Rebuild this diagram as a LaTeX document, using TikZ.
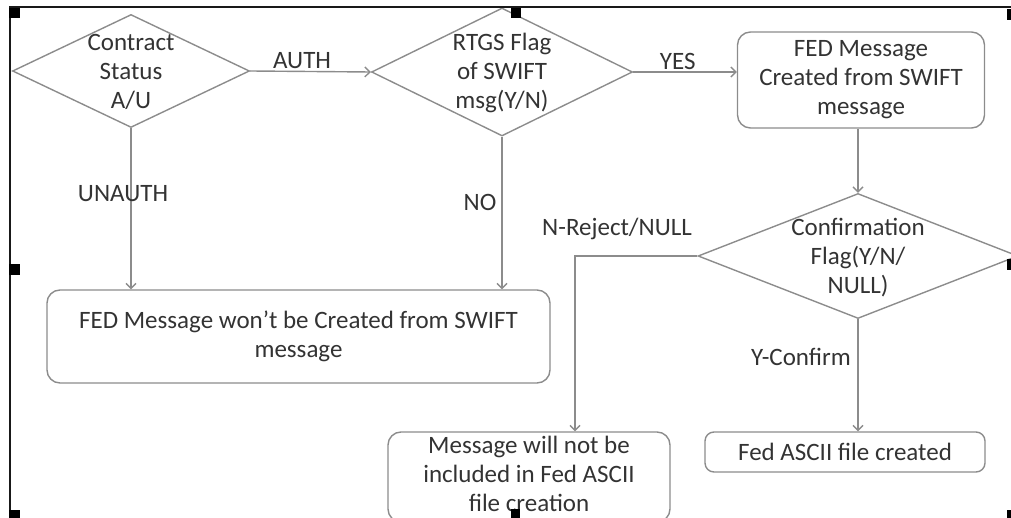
\documentclass[tikz,border=0pt]{standalone}
\usepackage{fontspec}
\setmainfont{Carlito}
\usetikzlibrary{arrows.meta,shapes.geometric}
\definecolor{linegray}{HTML}{8C8C8C}
\definecolor{txtgray}{HTML}{333333}
\begin{document}
\begin{tikzpicture}[x=1pt,y=-1pt,
  every node/.style={font=\fontsize{25}{29}\selectfont, text=txtgray},
  dec/.style={draw=linegray, line width=1.4pt, diamond, inner sep=0pt},
  proc/.style={draw=linegray, line width=1.4pt, rounded corners=13pt, inner sep=0pt, align=center},
  lbl/.style={align=center, inner sep=0pt},
  conn/.style={draw=linegray, line width=1.4pt, -{Straight Barb[length=5pt,width=10pt]}},
  handle/.style={fill=black},
  frame/.style={draw=black!90, line width=2pt},
]
\useasboundingbox (0,0) rectangle (1011,518);
\clip (0,0) rectangle (1011,518);

% decisions
\node[dec, minimum width=237pt, minimum height=113pt,
  label={[lbl, yshift=-1pt]center:Contract\\Status\\A/U}] (d1) at (131,71) {};
\node[dec, minimum width=261pt, minimum height=128pt,
  label={[lbl, yshift=-1pt]center:RTGS Flag\\of SWIFT\\msg(Y/N)}] (d2) at (502,72) {};
\node[dec, minimum width=320pt, minimum height=125pt,
  label={[lbl, yshift=-2pt]center:Confirmation\\Flag(Y/N/\\NULL)}] (d3) at (858,256) {};

% processes
\node[proc, minimum width=247pt, minimum height=96pt] (b1) at (861,80)
  {FED Message\\Created from SWIFT\\message};
\node[proc, minimum width=503pt, minimum height=93pt] (b2) at (298.5,336.5)
  {FED Message won’t be Created from SWIFT\\message};
\node[proc, minimum width=282pt, minimum height=90pt] (b3) at (529,477)
  {\raisebox{1pt}{\begin{tabular}{@{}c@{}}Message will not be\\included in Fed ASCII\\file creation\end{tabular}}};
\node[proc, minimum width=280pt, minimum height=40pt, rounded corners=9pt] (b4) at (845,452)
  {Fed ASCII file created};

\coordinate (b3in) at ([xshift=46pt]b3.north);

% connectors
\draw[conn] (d1.east) -- node[lbl, above=2pt, pos=0.43] {AUTH} (d2.west);
\draw[conn] (d2.east) -- node[lbl, above=2pt, pos=0.43] {YES} (b1.west |- d2.east);
\draw[conn] (d3.north |- b1.south) -- (d3.north);
\draw[conn] (d1.south) -- (b2.north -| d1.south);
\draw[conn] (d2.south) -- (b2.north -| d2.south);
\draw[conn] (d3.west) -| (b3in);
\draw[conn] (d3.south) -- (b4.north -| d3.south);

% connector labels
\node[lbl] (lunauth) at (123,194) {UNAUTH};
\node[lbl] (lno) at (480,202) {NO};
\node[lbl] (lnrej) at (617,229) {N-Reject/NULL};
\node[lbl] (lyconf) at (801,357) {Y-Confirm};

% frame and selection handles
\draw[frame] (10,518) -- (10,7) -- (1011,7);
\fill[handle] (9,8) rectangle (20,18);
\fill[handle] (511,8) rectangle (521,18);
\fill[handle] (1007,9) rectangle (1011,20);
\fill[handle] (9,264) rectangle (20,275);
\fill[handle] (1007,259) rectangle (1011,270);
\fill[handle] (9,510) rectangle (20,518);
\fill[handle] (511,509) rectangle (520,518);
\fill[handle] (1007,510) rectangle (1011,518);
\end{tikzpicture}
\end{document}
